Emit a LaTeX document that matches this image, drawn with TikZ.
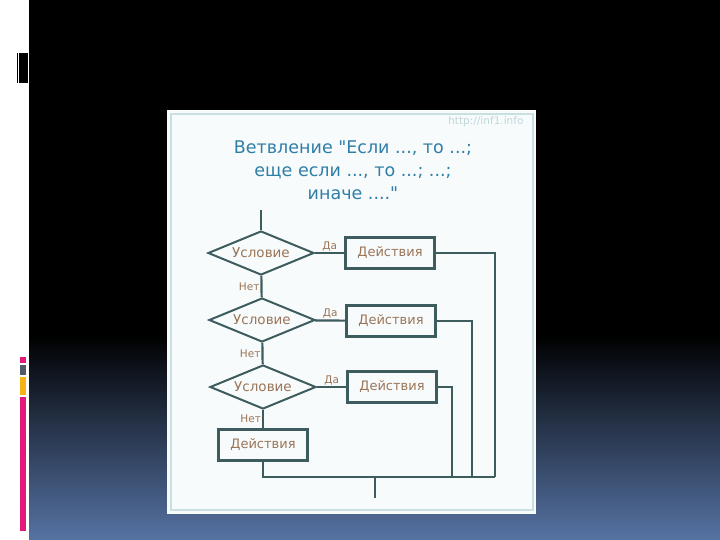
\documentclass[tikz,border=0pt]{standalone}
\usepackage{fontspec}
\setmainfont{DejaVu Sans}[Ligatures=TeXOff]
\usetikzlibrary{shapes.geometric}

\definecolor{flowline}{HTML}{3D5C5E}
\definecolor{flowtext}{HTML}{9A7558}
\definecolor{titleblue}{HTML}{2F7EA8}
\definecolor{panelbg}{HTML}{F8FBFB}
\definecolor{panelline}{HTML}{C9E0E3}
\definecolor{urlgray}{HTML}{BFD7DB}
\definecolor{slideblue}{HTML}{5673A3}
\definecolor{barpink}{HTML}{E2187B}
\definecolor{bargray}{HTML}{4F5B6B}
\definecolor{bargold}{HTML}{F5B316}

\begin{document}
\begin{tikzpicture}[x=1pt, y=-1pt,
    cond/.style={draw=flowline, diamond, line width=2pt, inner sep=0pt, aspect=2.4,
      minimum width=106pt, minimum height=44pt, text=flowtext, font=\fontsize{13.5}{15}\selectfont},
    act/.style={draw=flowline, rectangle, line width=2.4pt, minimum width=89pt,
      minimum height=31pt, text=flowtext, font=\fontsize{13}{15}\selectfont},
    lbl/.style={text=flowtext, font=\fontsize{10.5}{12}\selectfont, inner sep=1pt},
    flow/.style={draw=flowline, line width=2.2pt},
    every edge/.style={flow}
  ]
  \useasboundingbox (0,0) rectangle (720,540);

  % slide
  \fill[white] (0,0) rectangle (29,540);
  \fill[black] (29,0) rectangle (720,540);
  \shade[top color=black, bottom color=slideblue] (29,335) rectangle (720,540);
  \fill[black] (17,53) rectangle (18,83);
  \fill[black] (19,53) rectangle (28,83);
  \fill[barpink] (20,357) rectangle (26,363);
  \fill[bargray] (20,365) rectangle (26,375);
  \fill[bargold] (20,377) rectangle (26,395);
  \fill[barpink] (20,397) rectangle (26,531);

  % panel
  \fill[panelbg] (167,110) rectangle (536,514);
  \draw[panelline, line width=2pt] (171,114) rectangle (533,510);
  \node[text=urlgray, font=\fontsize{10.5}{12}\selectfont, anchor=east] (url) at (527,122) {http://inf1.info};
  \node[text=titleblue, align=center, font=\fontsize{17.5}{23}\selectfont] (title) at (353,170)
    {Ветвление "Если ..., то ...;\\ еще если ..., то ...; ...;\\ иначе ...."};

  \coordinate (in) at (261,210);
  \node[cond] (c1) at (261,253) {Условие};
  \node[cond] (c2) at (262,320) {Условие};
  \node[cond] (c3) at (263,387) {Условие};

  \node[act] (a1) at (390,253) {Действия};
  \node[act] (a2) at (391,321) {Действия};
  \node[act] (a3) at (392,387) {Действия};
  \node[act] (a4) at (263,445) {Действия};

  \coordinate (r1) at (495,477);
  \coordinate (r2) at (472,477);
  \coordinate (r3) at (452,477);
  \coordinate (m) at (375,477);
  \coordinate (out) at (375,498);

  \path (in) edge (c1);
  \path (c1) edge node[lbl, above] {Да} (a1);
  \path (c2) edge node[lbl, above] {Да} (a2);
  \path (c3) edge node[lbl, above] {Да} (a3);
  \path (c1) edge node[lbl, left] {Нет} (c2);
  \path (c2) edge node[lbl, left] {Нет} (c3);
  \path (c3) edge node[lbl, left] {Нет} (a4);

  \draw[flow] (a1.east) -| (r1);
  \draw[flow] (a2.east) -| (r2);
  \draw[flow] (a3.east) -| (r3);
  \draw[flow] (a4.south) |- (r1);
  \path (m) edge (out);

\end{tikzpicture}
\end{document}
